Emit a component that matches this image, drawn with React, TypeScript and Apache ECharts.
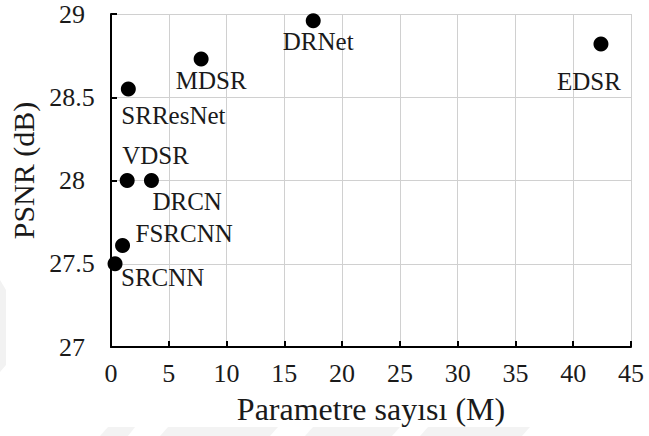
import React, { useEffect, useRef } from "react";
import * as echarts from "echarts";

const models = ["SRCNN", "FSRCNN", "VDSR", "DRCN", "SRResNet", "MDSR", "DRNet", "EDSR"];
const params = [0.35, 1.0, 1.4, 3.5, 1.5, 7.8, 17.5, 42.4];
const psnr = [27.5, 27.61, 28.0, 28.0, 28.55, 28.73, 28.96, 28.82];
// label placement: [dx, dy] from point centre, and horizontal alignment
const labelDx = [6, 13, -5, 1, -7, 10, 5, -12];
const labelDy = [14, -12, -25, 21, 27, 22, 21, 38];
const labelAlign = ["left", "left", "left", "left", "left", "center", "center", "center"];

const FONT = "'Liberation Serif', 'Times New Roman', serif";
const SYM = 15;

export default function App() {
  const ref = useRef<HTMLDivElement>(null);
  useEffect(() => {
    const chart = echarts.init(ref.current!, undefined, { renderer: "svg" });
    const data = models.map((m, i) => ({
      name: m,
      value: [params[i], psnr[i]],
      label: {
        show: true,
        formatter: m,
        position: [SYM / 2 + labelDx[i], SYM / 2 + labelDy[i]],
        align: labelAlign[i],
        verticalAlign: "middle",
      },
    }));
    chart.setOption({
      animation: false,
      backgroundColor: "#ffffff",
      textStyle: { fontFamily: FONT },
      grid: { left: 111, right: 18, top: 14, bottom: 89, containLabel: false },
      graphic: [
        { type: "polygon", z: -10, shape: { points: [[0, 280], [6, 290], [6, 365], [0, 372]] }, style: { fill: "#f2f2f2" } },
        { type: "polygon", z: -10, shape: { points: [[100, 436], [108, 427], [135, 427], [128, 436]] }, style: { fill: "#f3f3f3" } },
        { type: "polygon", z: -10, shape: { points: [[160, 436], [168, 427], [278, 427], [270, 436]] }, style: { fill: "#f3f3f3" } },
        { type: "polygon", z: -10, shape: { points: [[305, 436], [313, 427], [400, 427], [392, 436]] }, style: { fill: "#f3f3f3" } },
        { type: "polygon", z: -10, shape: { points: [[420, 436], [428, 427], [530, 427], [522, 436]] }, style: { fill: "#f3f3f3" } },
      ],
      xAxis: {
        type: "value",
        min: 0,
        max: 45,
        interval: 5,
        name: "Parametre sayısı (M)",
        nameLocation: "middle",
        nameGap: 46,
        nameTextStyle: { fontFamily: FONT, fontSize: 32, color: "#1a1a1a" },
        axisLine: { show: true, onZero: false, lineStyle: { color: "#000", width: 2 } },
        axisTick: { show: true, inside: true, length: 6, lineStyle: { color: "#000", width: 2 } },
        axisLabel: { fontFamily: FONT, fontSize: 26, color: "#1a1a1a", margin: 13, showMaxLabel: true },
        splitLine: { show: true, lineStyle: { color: "#d0d0d0", width: 1 } },
      },
      yAxis: {
        type: "value",
        min: 27,
        max: 29,
        interval: 0.5,
        name: "PSNR (dB)",
        nameLocation: "middle",
        nameGap: 71,
        nameTextStyle: { fontFamily: FONT, fontSize: 30, color: "#1a1a1a", padding: [0, 0, 0, 20] },
        axisLine: { show: true, onZero: false, lineStyle: { color: "#000", width: 2 } },
        axisTick: { show: true, inside: true, length: 6, lineStyle: { color: "#000", width: 2 } },
        axisLabel: { fontFamily: FONT, fontSize: 26, color: "#1a1a1a", margin: 39, align: "center" },
        splitLine: { show: true, lineStyle: { color: "#d0d0d0", width: 1 } },
      },
      series: [
        {
          type: "scatter",
          symbol: "circle",
          symbolSize: SYM,
          itemStyle: { color: "#000", opacity: 1 },
          label: { fontFamily: FONT, fontSize: 25, color: "#1a1a1a" },
          labelLayout: { hideOverlap: false },
          data,
        },
      ],
    });
    return () => chart.dispose();
  }, []);
  return (
    <div
      ref={ref}
      style={{ position: "fixed", left: 0, top: 0, width: 649, height: 436, overflow: "visible" }}
    />
  );
}
